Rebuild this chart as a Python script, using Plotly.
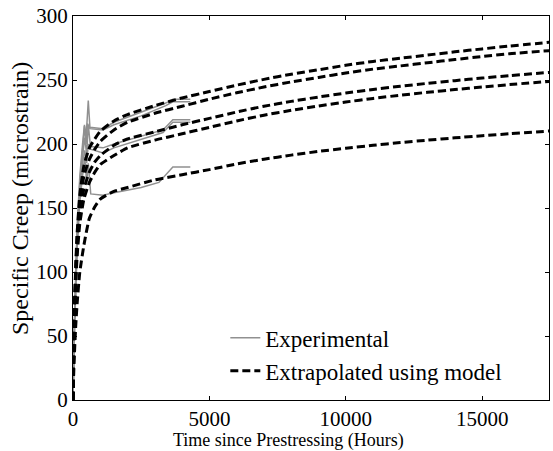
import plotly.graph_objects as go

# Model (extrapolated) curves: time in hours, specific creep in microstrain
t_model = [0, 25, 50, 100, 150, 250, 400, 600, 800, 1000, 1500, 2000, 3000,
           4000, 5000, 6000, 7000, 8000, 9000, 10000, 11000, 12000, 13000,
           14000, 15000, 16000, 17500]
model_1 = [0, 40, 70, 105, 130, 160, 183, 197, 204, 210, 218, 223, 230,
           236, 241, 246, 250.5, 254.5, 258, 261.5, 264.5, 267, 269.5,
           272, 274.3, 276.5, 279.5]
model_2 = [0, 38, 67, 100, 125, 153, 175, 188, 196, 202, 211, 217, 224,
           229.5, 235, 240, 244.5, 248.5, 252, 255.5, 258.5, 261, 263.5,
           266, 268.3, 270.5, 273]
model_3 = [0, 36, 63, 95, 118, 145, 165, 178, 186, 191, 199, 204, 209.5,
           215, 220, 225, 229.5, 233.3, 236.7, 239.8, 242.6, 245.1, 247.4,
           249.5, 251.5, 253.4, 256]
model_4 = [0, 35, 60, 90, 112, 138, 157, 170, 178, 184, 191, 197, 203,
           208, 213, 218, 222.5, 226.3, 229.7, 232.8, 235.6, 238.1, 240.4,
           242.5, 244.5, 246.4, 249]
model_5 = [0, 20, 35, 58, 75, 100, 121, 142, 151, 157, 163, 166, 172,
           176, 180, 184.4, 188.1, 191.3, 194.2, 196.7, 199, 201.1, 203,
           204.8, 206.5, 208, 210.2]

# Experimental curves
exp_1_t = [0, 50, 150, 250, 350, 420, 480, 530, 560, 620, 1100, 1500, 2500, 3400, 3660, 4300]
exp_1_v = [0, 60, 135, 175, 200, 215, 205, 226, 234, 213, 212, 217, 225, 232, 235, 235]
exp_2_t = [0, 50, 150, 250, 350, 420, 480, 530, 620, 1100, 1500, 2500, 3400, 3660, 4300]
exp_2_v = [0, 58, 130, 170, 195, 214, 200, 216, 212, 211, 215, 222, 230, 233, 233]
exp_3_t = [0, 50, 150, 250, 350, 430, 500, 560, 640, 1100, 1500, 2500, 3300, 3660, 4300]
exp_3_v = [0, 55, 125, 165, 190, 205, 192, 215, 198, 197, 200, 206, 211, 219, 219]
exp_4_t = [0, 50, 150, 250, 350, 430, 500, 560, 640, 1100, 1500, 2500, 3300, 3660, 4300]
exp_4_v = [0, 52, 120, 160, 185, 195, 185, 200, 196, 193, 197, 204, 209, 217, 217]
exp_5_t = [0, 50, 150, 250, 350, 430, 500, 560, 650, 1100, 1500, 2500, 3150, 3660, 4300]
exp_5_v = [0, 50, 118, 155, 175, 190, 170, 185, 161, 160, 162, 166, 170, 182, 182]

x_ticks = [0, 5000, 10000, 15000]
y_ticks = [0, 50, 100, 150, 200, 250, 300]

FONT = "Liberation Serif"
fig = go.Figure()

exps = [(exp_1_t, exp_1_v), (exp_2_t, exp_2_v), (exp_3_t, exp_3_v),
        (exp_4_t, exp_4_v), (exp_5_t, exp_5_v)]
for i, (tt, vv) in enumerate(exps):
    fig.add_trace(go.Scatter(x=tt, y=vv, mode="lines",
                             line=dict(color="#909090", width=1.5),
                             name="Experimental", showlegend=(i == 0),
                             legendgroup="exp"))

for i, mv in enumerate([model_1, model_2, model_3, model_4, model_5]):
    fig.add_trace(go.Scatter(x=t_model, y=mv, mode="lines",
                             line=dict(color="black", width=3, dash="8px,4px",
                                       shape="spline", smoothing=0.5),
                             name="Extrapolated using model",
                             showlegend=(i == 0), legendgroup="mod"))

axis_common = dict(showgrid=False, zeroline=False, showline=True,
                   linecolor="black", linewidth=1.3, mirror="ticks",
                   ticks="inside", ticklen=4, tickcolor="black",
                   tickfont=dict(family=FONT, size=21, color="black"))

fig.update_xaxes(range=[0, 17450], tickvals=x_ticks,
                 ticktext=[str(v) for v in x_ticks], **axis_common)
fig.update_yaxes(range=[0, 300], tickvals=y_ticks,
                 ticktext=[str(v) for v in y_ticks], **axis_common)

fig.add_annotation(text="Time since Prestressing (Hours)", xref="paper",
                   yref="paper", x=(288 - 73) / 476, y=-(440 - 400) / 384,
                   xanchor="center", yanchor="middle", showarrow=False,
                   font=dict(family=FONT, size=18, color="black"))
fig.add_annotation(text="Specific Creep (microstrain)", xref="paper",
                   yref="paper", x=-(73 - 20) / 476, y=(400 - 199) / 384,
                   xanchor="center", yanchor="middle", showarrow=False,
                   textangle=-90,
                   font=dict(family=FONT, size=24, color="black"))

fig.update_layout(
    width=553, height=451,
    margin=dict(l=73, r=4, t=16, b=51),
    paper_bgcolor="white", plot_bgcolor="white",
    font=dict(family=FONT, color="black"),
    legend=dict(x=0.32, y=0.02, xanchor="left", yanchor="bottom",
                bgcolor="rgba(0,0,0,0)", borderwidth=0,
                font=dict(family=FONT, size=23, color="black"),
                tracegroupgap=0, itemwidth=30),
)

fig.write_html("out.html")
